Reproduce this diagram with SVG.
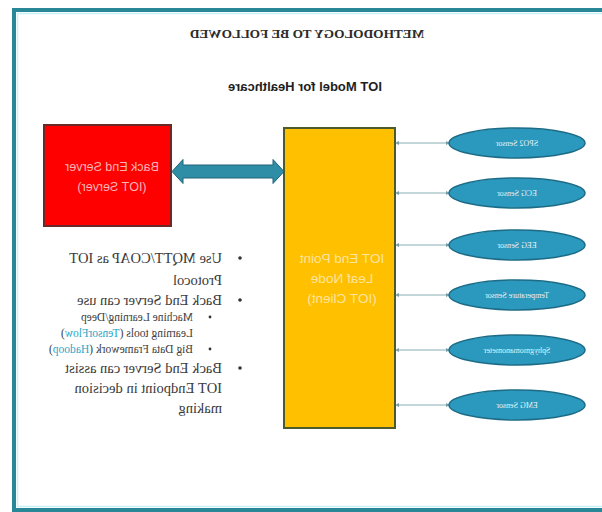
<svg xmlns="http://www.w3.org/2000/svg" width="602" height="512" viewBox="0 0 602 512">
  <style>
    .serif { font-family: "Liberation Serif", "Times New Roman", serif; }
    .sans { font-family: "Liberation Sans", Arial, sans-serif; }
    .sensor { fill: #2b98bd; stroke: #1d6c87; stroke-width: 1.5; }
    .sensor-label { font-family: "Liberation Serif", serif; font-size: 8px; fill: #e3f2f7; text-anchor: middle; }
    .wire { stroke: #86adb4; stroke-width: 1; fill: none; marker-start: url(#tip); marker-end: url(#tip); }
    .bullet-text { font-family: "Liberation Serif", "Times New Roman", serif; font-size: 14.5px; fill: #3a3a3a; }
    .sub-text { font-family: "Liberation Serif", "Times New Roman", serif; font-size: 11.5px; fill: #404040; }
    .hl { fill: #2aa7c9; }
  </style>
  <defs>
    <marker id="tip" viewBox="0 0 6 6" refX="3" refY="3" markerWidth="4" markerHeight="4" orient="auto-start-reverse">
      <path d="M0,0 L6,3 L0,6 Z" fill="#7a9fa6"/>
    </marker>
  </defs>

  <!-- page background and frame -->
  <rect x="0" y="0" width="602" height="512" fill="#ffffff"/>
  <path d="M602,10 H14 V510 H602" fill="none" stroke="#2a8797" stroke-width="4"/>
  <path d="M602,13.5 H17.5 V506.5 H602" fill="none" stroke="#c8f2f6" stroke-width="1.5"/>

  <!-- headings (mirrored) -->
  <g id="title">
    <text class="serif" x="-307" y="38" transform="scale(-1 1)" text-anchor="middle" font-size="13.3" font-weight="bold" fill="#2b2b2b">METHODOLOGY TO BE FOLLOWED</text>
  </g>
  <g id="subtitle">
    <text class="sans" x="-305" y="91" transform="scale(-1 1)" text-anchor="middle" font-size="13" font-weight="bold" fill="#1e1e1e">IOT Model for Healthcare</text>
  </g>

  <!-- connectors -->
  <g id="connectors">
    <path d="M172,171.5 L183,159.5 L183,165 L273,165 L273,159.5 L284,171.5 L273,183.5 L273,178 L183,178 L183,183.5 Z" fill="#2e8ea6" stroke="#1f6478" stroke-width="1"/>
    <line class="wire" x1="397" y1="143" x2="448" y2="143"/>
    <line class="wire" x1="397" y1="193" x2="448" y2="193"/>
    <line class="wire" x1="397" y1="245" x2="448" y2="245"/>
    <line class="wire" x1="397" y1="295" x2="448" y2="295"/>
    <line class="wire" x1="397" y1="350" x2="448" y2="350"/>
    <line class="wire" x1="397" y1="405" x2="448" y2="405"/>
  </g>

  <!-- back end server -->
  <g id="server">
    <rect x="44" y="125" width="127" height="101" fill="#ff0000" stroke="#6b2a2a" stroke-width="2"/>
    <g transform="scale(-1 1)" class="sans" font-size="12.5" fill="#f7b4b4" text-anchor="middle">
      <text x="-112" y="171">Back End Server</text>
      <text x="-112" y="191">(IOT Server)</text>
    </g>
  </g>

  <!-- IOT end point -->
  <g id="endpoint">
    <rect x="284" y="128" width="111" height="300" fill="#ffc000" stroke="#4d5a2a" stroke-width="2"/>
    <g transform="scale(-1 1)" class="sans" font-size="13.5" fill="#fde4a0" text-anchor="middle">
      <text x="-342" y="263">IOT End Point</text>
      <text x="-342" y="283">Leaf Node</text>
      <text x="-342" y="303">(IOT Client)</text>
    </g>
  </g>

  <!-- sensors -->
  <g id="sensor-spo2">
    <ellipse class="sensor" cx="517" cy="143" rx="68" ry="15"/>
    <text class="sensor-label" x="-517" y="146" transform="scale(-1 1)">SPO2 Sensor</text>
  </g>
  <g id="sensor-ecg">
    <ellipse class="sensor" cx="517" cy="193" rx="68" ry="15"/>
    <text class="sensor-label" x="-517" y="196" transform="scale(-1 1)">ECG Sensor</text>
  </g>
  <g id="sensor-eeg">
    <ellipse class="sensor" cx="517" cy="245" rx="68" ry="15"/>
    <text class="sensor-label" x="-517" y="248" transform="scale(-1 1)">EEG Sensor</text>
  </g>
  <g id="sensor-temp">
    <ellipse class="sensor" cx="517" cy="295" rx="68" ry="15"/>
    <text class="sensor-label" x="-517" y="298" transform="scale(-1 1)">Temperature Sensor</text>
  </g>
  <g id="sensor-bp">
    <ellipse class="sensor" cx="517" cy="350" rx="68" ry="15"/>
    <text class="sensor-label" x="-517" y="353" transform="scale(-1 1)">Sphygmomanometer</text>
  </g>
  <g id="sensor-emg">
    <ellipse class="sensor" cx="517" cy="405" rx="68" ry="15"/>
    <text class="sensor-label" x="-517" y="408" transform="scale(-1 1)">EMG Sensor</text>
  </g>

  <!-- notes -->
  <g id="notes">
    <g fill="#333333">
      <circle cx="240" cy="258" r="1.8"/>
      <circle cx="240" cy="300" r="1.8"/>
      <circle cx="210" cy="317" r="1.4"/>
      <circle cx="210" cy="349" r="1.4"/>
      <circle cx="240" cy="368" r="1.8"/>
    </g>
    <g transform="scale(-1 1)">
      <text class="bullet-text" x="-222" y="263">Use MQTT/COAP as IOT</text>
      <text class="bullet-text" x="-222" y="285">Protocol</text>
      <text class="bullet-text" x="-222" y="305">Back End Server can use</text>
      <text class="sub-text" x="-193" y="321">Machine Learning/Deep</text>
      <text class="sub-text" x="-193" y="337">Learning tools (<tspan class="hl">TensorFlow</tspan>)</text>
      <text class="sub-text" x="-193" y="353">Big Data Framework (<tspan class="hl">Hadoop</tspan>)</text>
      <text class="bullet-text" x="-222" y="373">Back End Server can assist</text>
      <text class="bullet-text" x="-222" y="393">IOT Endpoint in decision</text>
      <text class="bullet-text" x="-222" y="413">making</text>
    </g>
  </g>
</svg>
